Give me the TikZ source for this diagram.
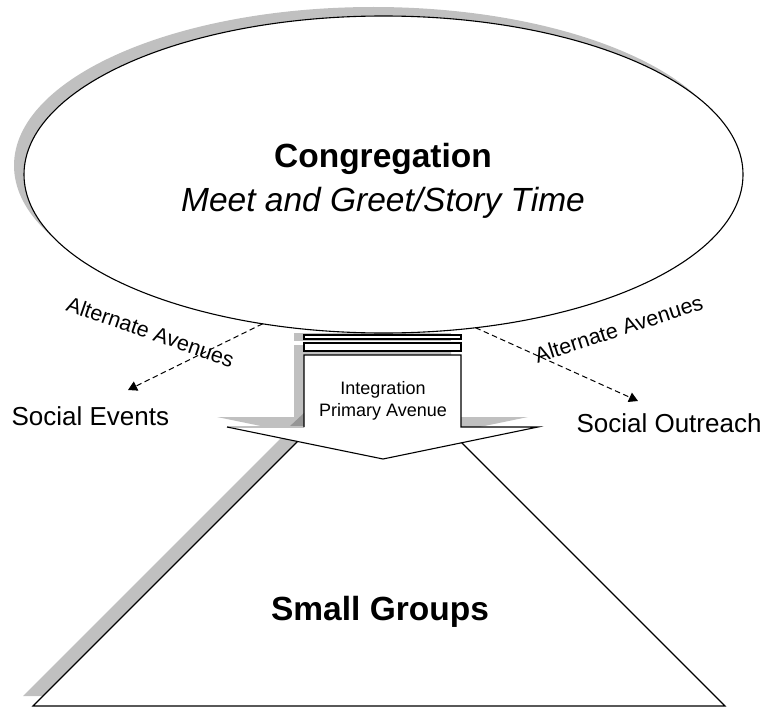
\documentclass[tikz,border=0pt]{standalone}
\usepackage{fontspec}
\setmainfont{Liberation Sans}
\usetikzlibrary{arrows.meta,shapes.geometric}
\definecolor{shadowgray}{RGB}{192,192,192}
\definecolor{darkshade}{RGB}{150,150,150}
\begin{document}
\begin{tikzpicture}[x=1pt,y=-1pt,line width=1.1pt,line join=miter,
  shadowfill/.style={fill=shadowgray,draw=none},
  outline/.style={draw=black,fill=white},
  bigtxt/.style={inner sep=0pt,font=\fontsize{33.5}{40}\selectfont},
  midtxt/.style={inner sep=0pt,font=\fontsize{26}{31}\selectfont},
  alttxt/.style={inner sep=0pt,font=\fontsize{21.5}{26}\selectfont},
  smalltxt/.style={inner sep=0pt,font=\fontsize{18}{22}\selectfont},
  altarrow/.style={dashed,dash pattern=on 5.5pt off 3.5pt,line width=1pt,-{Triangle[length=9pt,width=10pt]}}]
\useasboundingbox (0,0) rectangle (763,709);

% triangle (Small Groups)
\fill[shadowfill] (23,696) -- (369,350) -- (715,696) -- cycle;
\draw[outline] (33,706) coordinate (tbl) -- (379,360) coordinate (tapex) -- (725,706) coordinate (tbr) -- cycle;

% ellipse shadow
\fill[shadowfill] (373.5,165.5) ellipse [x radius=359.5, y radius=158.5];

% arrow shadow
\begin{scope}[shift={(-10,-10)}]
\fill[shadowfill] (304,335) rectangle (461,339);
\fill[shadowfill] (304,343) rectangle (461,351);
\fill[shadowfill] (304,355) -- (461,355) -- (461,427) -- (538,427) -- (383,459) -- (227,427) -- (304,427) -- cycle;
\end{scope}

% ellipse
\node[ellipse,draw=black,fill=white,line width=1.1pt,minimum width=719pt,minimum height=317pt,inner sep=0pt,outer sep=0pt] (cong) at (383.5,174.5) {};

% block arrow
\draw[outline] (304,335) rectangle (461,339);
\draw[outline] (304,343) rectangle (461,351);
\fill[white] (304,355) -- (461,355) -- (461,427) -- (538,427) -- (383,459) -- (227,427) -- (304,427) -- cycle;
\fill[darkshade] (304,413) -- (304,427) -- (289,427) -- cycle;
\draw[shadowgray] (227,427) -- (304,427);
\draw (304,427) coordinate (shbl) -- (304,355) coordinate (shl) -- (461,355) coordinate (shr) -- (461,427) -- (538,427) coordinate (wr) -- (383,459) coordinate (tip) -- (227,427) coordinate (wl);

% texts
\node[bigtxt,font=\fontsize{33.5}{40}\selectfont\bfseries,anchor=base] (ctitle) at (383,167) {Congregation};
\node[bigtxt,font=\fontsize{33.5}{40}\selectfont\itshape,anchor=base] (csub) at (383,211) {Meet and Greet/Story Time};
\node[bigtxt,font=\fontsize{33.5}{40}\selectfont\bfseries,anchor=base] (sg) at (380,620) {Small Groups};
\node[smalltxt,anchor=base] (integ1) at (383,394) {Integration};
\node[smalltxt,anchor=base] (integ2) at (383,416) {Primary Avenue};
\node[midtxt,anchor=base west] (sev) at (11,425) {Social Events};
\node[midtxt,anchor=base west] (sout) at (576,432) {Social Outreach};
\node[alttxt,anchor=base,rotate=-19] (altl) at (148,339) {Alternate Avenues};
\node[alttxt,anchor=base,rotate=18] (altr) at (621,336) {Alternate Avenues};

% dashed connectors
\coordinate (sevtip) at (128,390);
\coordinate (souttip) at (638,401);
\draw[altarrow] (cong.231.7) -- (sevtip);
\draw[altarrow] (cong.301.5) -- (souttip);
\end{tikzpicture}
\end{document}
